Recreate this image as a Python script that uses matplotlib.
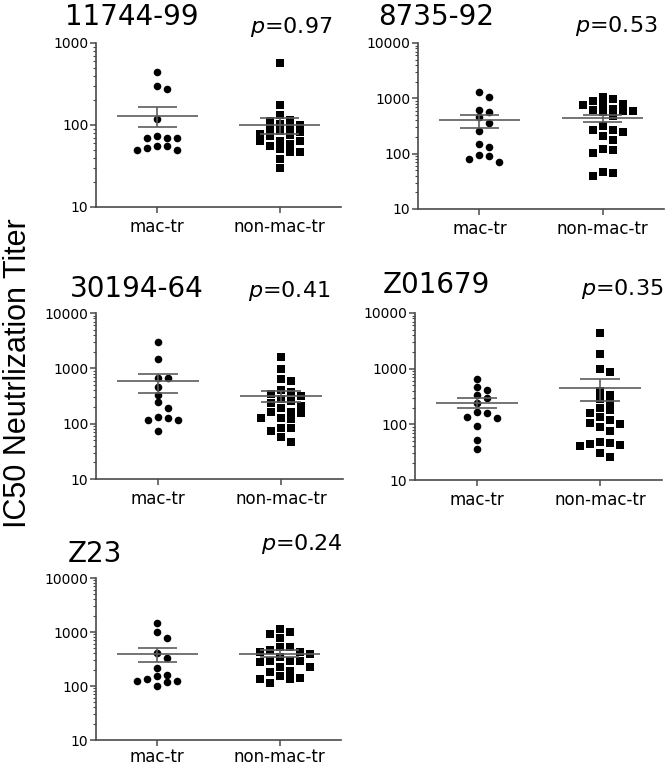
import numpy as np
import matplotlib.pyplot as plt
from matplotlib.ticker import FixedLocator, LogLocator, NullFormatter, FuncFormatter

plt.rcParams['font.family'] = ['DejaVu Sans']
plt.rcParams['mathtext.fontset'] = 'dejavusans'

groups = ['mac-tr', 'non-mac-tr']
viruses = ['11744-99', '8735-92', '30194-64', 'Z01679', 'Z23']
p_values = ['0.97', '0.53', '0.41', '0.35', '0.24']
y_tops = [1000, 10000, 10000, 10000, 10000]

# IC50 titers
mac_11744 = [438, 302, 275, 118, 74, 70, 70, 70, 56, 53, 49, 50, 55]
non_11744 = [570, 177, 131, 116, 103, 92, 90, 101, 111, 82, 75, 73, 78, 84,
             64, 63, 64, 56, 58, 51, 47, 47, 38, 30]
mac_8735 = [1043, 1300, 566, 606, 452, 352, 260, 150, 130, 89, 72, 81, 96]
non_8735 = [1043, 906, 767, 747, 581, 789, 985, 624, 566, 581, 650, 472, 311,
            243, 271, 205, 263, 179, 115, 103, 123, 46, 39, 45]
mac_30194 = [2936, 1466, 682, 682, 456, 331, 244, 190, 134, 117, 115, 125, 74]
non_30194 = [1596, 979, 646, 594, 380, 322, 341, 408, 258, 212, 195, 234, 280,
             161, 154, 165, 125, 122, 125, 83, 74, 85, 58, 47]
mac_z01679 = [656, 417, 466, 295, 339, 246, 169, 163, 129, 138, 95, 52, 36]
non_z01679 = [4365, 1850, 889, 982, 399, 339, 250, 283, 182, 195, 163, 134, 102,
              120, 91, 105, 76, 49, 43, 47, 41, 44, 26, 30]
mac_z23 = [1490, 982, 790, 402, 330, 216, 163, 134, 123, 102, 118, 123, 150]
non_z23 = [982, 767, 910, 1122, 518, 431, 419, 470, 518, 349, 390, 295, 222, 275,
           295, 295, 222, 180, 188, 150, 136, 113, 136, 141]

mac_data = [mac_11744, mac_8735, mac_30194, mac_z01679, mac_z23]
non_data = [non_11744, non_8735, non_30194, non_z01679, non_z23]

W, H = 666, 767
# axes boxes in pixels: left, top, right, bottom
boxes = [(96, 43, 341, 207), (418, 43, 664, 209), (96, 313, 343, 479),
         (415, 313, 662, 480), (96, 578, 341, 740)]
# title / p-value text offsets (px) from the top corners
title_offsets = [(-31, 18), (-40, 18), (-26, 16), (-32, 20), (-28, 16)]
p_offsets = [(-9, 10), (-6, 11), (-13, 16), (1, 18), (2, 28)]
xlab_pad = [4, 4, 4, 4, 2]

spine_col = '#4a4a4a'
line_col = '#5c5c5c'


def swarm(vals, ppu, ppd, step=10.0, dmin=7.0):
    vals = np.asarray(vals, dtype=float)
    ys = np.log10(vals) * ppd
    order = np.argsort(-vals)
    xs = np.zeros(len(vals))
    placed = []
    cands = [0.0]
    for k in range(1, 30):
        cands += [k * step / 2, -k * step / 2]
    for i in order:
        for c in cands:
            ok = True
            for (px, py) in placed:
                if abs(c - px) < step - 0.5 and abs(ys[i] - py) < dmin:
                    ok = False
                    break
            if ok:
                xs[i] = c
                placed.append((c, ys[i]))
                break
    return xs / ppu


fig = plt.figure(figsize=(W / 100, H / 100), dpi=100)

for k in range(5):
    l, t, r, b = boxes[k]
    ax = fig.add_axes([l / W, 1 - b / H, (r - l) / W, (b - t) / H])
    ax.set_yscale('log')
    ax.set_ylim(10, y_tops[k])
    ax.set_xlim(-0.5, 1.5)
    ppu = (r - l) / 2.0
    ppd = (b - t) / np.log10(y_tops[k] / 10)

    for j, (vals, mk) in enumerate([(mac_data[k], 'o'), (non_data[k], 's')]):
        xs = j + swarm(vals, ppu, ppd)
        ax.scatter(xs, vals, s=30, marker=mk, color='black', linewidths=0, zorder=3)
        m = np.mean(vals)
        se = np.std(vals, ddof=1) / np.sqrt(len(vals))
        ax.hlines(m, j - 0.33, j + 0.33, color=line_col, lw=1.2, zorder=4)
        ax.hlines([m - se, m + se], j - 0.16, j + 0.16, color=line_col, lw=1.2, zorder=4)
        ax.vlines(j, m - se, m + se, color=line_col, lw=1.2, zorder=4)

    for s in ['top', 'right']:
        ax.spines[s].set_visible(False)
    for s in ['left', 'bottom']:
        ax.spines[s].set_color(spine_col)
        ax.spines[s].set_linewidth(1.2)

    majors = [10 ** e for e in range(1, int(np.log10(y_tops[k])) + 1)]
    ax.yaxis.set_major_locator(FixedLocator(majors))
    ax.yaxis.set_major_formatter(FuncFormatter(lambda v, p: '%d' % int(round(v))))
    ax.yaxis.set_minor_locator(LogLocator(base=10, subs=np.arange(2, 10)))
    ax.yaxis.set_minor_formatter(NullFormatter())
    ax.tick_params(axis='y', which='major', length=4, width=1.1, color=spine_col,
                   labelsize=10, pad=1.5)
    ax.tick_params(axis='y', which='minor', length=2, width=0.8, color=spine_col)
    ax.set_xticks([0, 1])
    ax.set_xticklabels(groups)
    ax.tick_params(axis='x', length=4, width=1.1, color=spine_col, labelsize=12,
                   pad=xlab_pad[k])

    ax.annotate(viruses[k], xy=(0, 1), xycoords='axes fraction', xytext=title_offsets[k],
                textcoords='offset pixels', ha='left', va='baseline', fontsize=20)
    ax.annotate(r'$p$=' + p_values[k], xy=(1, 1), xycoords='axes fraction',
                xytext=p_offsets[k], textcoords='offset pixels', ha='right',
                va='baseline', fontsize=16)

fig.text(0.027, 0.514, 'IC50 Neutrlization Titer', rotation=90, fontsize=22,
         family=['Liberation Sans', 'DejaVu Sans'], ha='center', va='center')

fig.savefig('out.png', dpi=100)
